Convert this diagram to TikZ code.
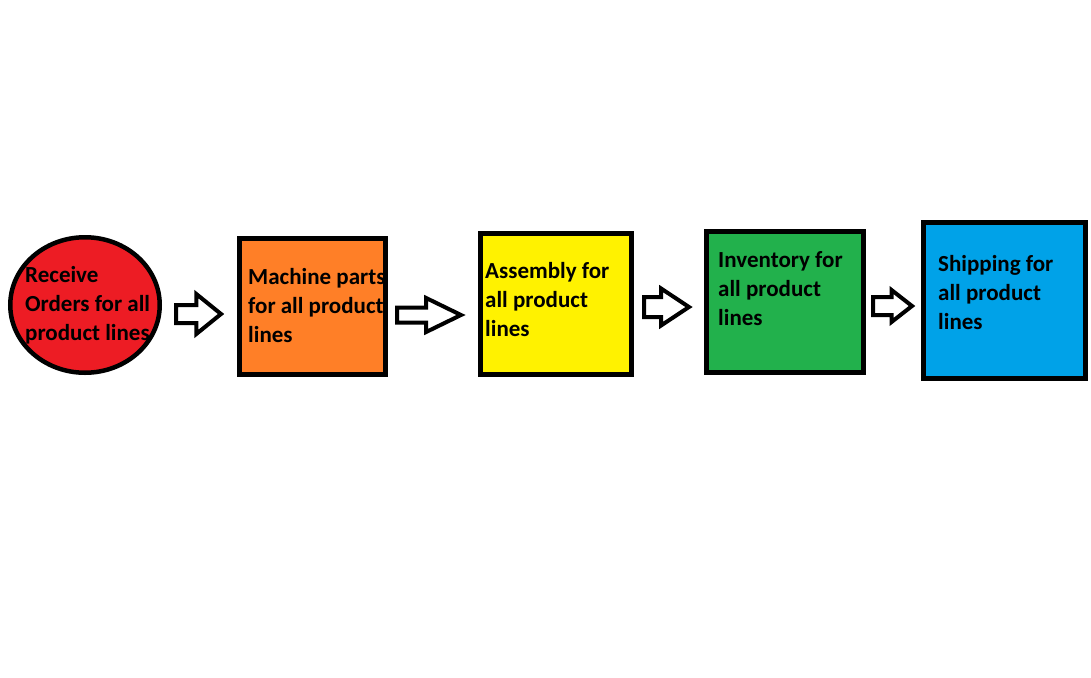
\documentclass[tikz,border=0pt]{standalone}
\usepackage{fontspec}
\setmainfont{Carlito}
\usepackage{tikz}
\definecolor{pred}{RGB}{237, 28, 36}
\definecolor{porange}{RGB}{255, 127, 39}
\definecolor{pyellow}{RGB}{255, 242, 0}
\definecolor{pgreen}{RGB}{34, 177, 76}
\definecolor{pblue}{RGB}{0, 162, 232}
\usetikzlibrary{shapes.arrows}
\usetikzlibrary{shapes.geometric}

\begin{document}
\begin{tikzpicture}[stage/.style={rectangle, inner sep=0pt, line width=5pt, draw=black},
  bigarrow/.style={single arrow, draw=black, fill=white, line width=4pt, inner xsep=0pt, outer sep=0pt, single arrow head indent=0pt},
  lbl/.style={anchor=north west, inner sep=0pt, align=left, font=\fontsize{23}{29}\selectfont\bfseries}]
\useasboundingbox (0pt, 0pt) rectangle (1091pt, -677pt);
\node (orders) [ellipse, inner sep=0pt, minimum width=149.5pt, minimum height=135.5pt, fill=pred, line width=4.5pt, draw=black] at (85pt, -305pt) {};
\node (parts) [stage, minimum width=146pt, minimum height=136pt, fill=porange] at (312.5pt, -306.5pt) {};
\node (assembly) [stage, minimum width=151pt, minimum height=141pt, fill=pyellow] at (556pt, -304pt) {};
\node (inventory) [stage, minimum width=157pt, minimum height=141pt, fill=pgreen] at (785pt, -302pt) {};
\node (shipping) [stage, minimum width=162pt, minimum height=156pt, fill=pblue] at (1004.5pt, -300.5pt) {};
\node (orders-txt) [lbl] at (25pt, -261.7pt) {\strut Receive\\Orders for all\\product lines};
\node (parts-txt) [lbl] at (248pt, -263.7pt) {\strut Machine parts\\for all product\\lines};
\node (assembly-txt) [lbl] at (485pt, -257.7pt) {\strut Assembly for\\all product\\lines};
\node (inventory-txt) [lbl] at (718pt, -246.7pt) {\strut Inventory for\\all product\\lines};
\node (shipping-txt) [lbl] at (938pt, -250.7pt) {\strut Shipping for\\all product\\lines};
\node (a1) [bigarrow, anchor=tip, minimum height=45pt, inner ysep=7pt, single arrow head extend=11pt, single arrow tip angle=78] at (221pt, -314pt) {};
\node (a2) [bigarrow, anchor=tip, minimum height=64pt, inner ysep=5.5pt, single arrow head extend=9.5pt, single arrow tip angle=52] at (461pt, -315pt) {};
\node (a3) [bigarrow, anchor=tip, minimum height=45pt, inner ysep=8pt, single arrow head extend=8.5pt, single arrow tip angle=67] at (689pt, -307pt) {};
\node (a4) [bigarrow, anchor=tip, minimum height=39pt, inner ysep=7pt, single arrow head extend=7pt, single arrow tip angle=76] at (912pt, -306pt) {};
\end{tikzpicture}
\end{document}
